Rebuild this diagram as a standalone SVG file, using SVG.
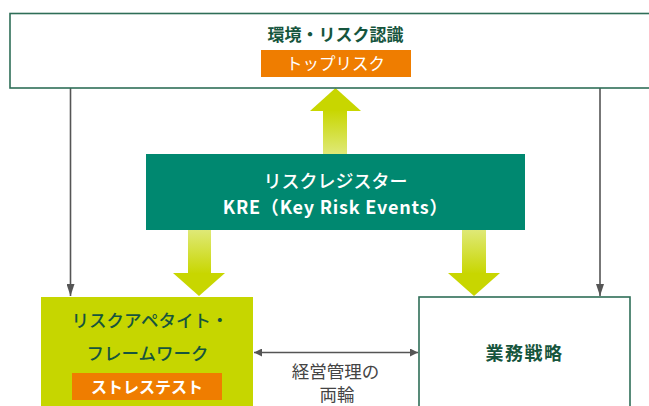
<svg xmlns="http://www.w3.org/2000/svg" width="649" height="406" viewBox="0 0 649 406">
<defs>
<style>
.t{font-family:"Noto Sans CJK JP","Noto Sans",sans-serif;text-anchor:middle}
.dg{fill:#16553d;font-weight:bold}
.wh{fill:#ffffff}
.gy{fill:#444444}
.ln{stroke:#555555;stroke-width:1.6;fill:none}
</style>
<linearGradient id="gUp" x1="0" y1="1" x2="0" y2="0">
<stop offset="0" stop-color="#dfe977"/>
<stop offset="1" stop-color="#c8d600"/>
</linearGradient>
<linearGradient id="gDn" x1="0" y1="0" x2="0" y2="1">
<stop offset="0" stop-color="#dfe977"/>
<stop offset="1" stop-color="#c8d600"/>
</linearGradient>
<marker id="ah" viewBox="0 0 10 10" refX="10" refY="5" markerWidth="8" markerHeight="8" markerUnits="userSpaceOnUse" orient="auto-start-reverse">
<path d="M0,0 L10,5 L0,10 z" fill="#555555"/>
</marker>
<marker id="ahd" viewBox="0 0 12 8" refX="12" refY="4" markerWidth="12" markerHeight="8" markerUnits="userSpaceOnUse" orient="auto">
<path d="M0,0 L12,4 L0,8 z" fill="#555555"/>
</marker>
</defs>

<g id="connectors">
<line class="ln" x1="70.5" y1="88" x2="70.5" y2="296" marker-end="url(#ahd)"/>
<line class="ln" x1="600" y1="88" x2="600" y2="296" marker-end="url(#ahd)"/>
<line class="ln" x1="254" y1="352.5" x2="418" y2="352.5" marker-start="url(#ah)" marker-end="url(#ah)"/>
<g id="arrow-up">
<rect x="323" y="110" width="24" height="44" fill="url(#gUp)"/>
<polygon points="335.5,88 361,111 310,111" fill="#c8d600"/>
</g>
<g id="arrow-down-left">
<rect x="188" y="230" width="23" height="44" fill="url(#gDn)"/>
<polygon points="173,273 225,273 199,296" fill="#c8d600"/>
</g>
<g id="arrow-down-right">
<rect x="462" y="230" width="24" height="44" fill="url(#gDn)"/>
<polygon points="448,273 500,273 474,296" fill="#c8d600"/>
</g>
</g>

<g id="node-top">
<rect x="10" y="13.5" width="645" height="74.5" fill="#ffffff" stroke="#2f6e58" stroke-width="1.6"/>
<text class="t dg" x="335.5" y="41" font-size="17">環境・リスク認識</text>
<rect x="261" y="50" width="150" height="27" fill="#ef7d00"/>
<text class="t wh" x="335.5" y="70" font-size="16.5">トップリスク</text>
</g>

<g id="node-register">
<rect x="146" y="154" width="379" height="76" fill="#008870"/>
<text class="t wh" x="335.5" y="188" font-size="18" style="font-weight:500">リスクレジスター</text>
<text class="t wh" x="335.5" y="214" font-size="18" font-weight="bold" letter-spacing="0.8">KRE（Key Risk Events）</text>
</g>

<g id="node-appetite">
<rect x="41" y="297" width="212" height="115" fill="#c6d600"/>
<text class="t dg" x="150" y="327" font-size="17.5" style="font-weight:500">リスクアペタイト・</text>
<text class="t dg" x="147.5" y="360" font-size="17.5" style="font-weight:500">フレームワーク</text>
<rect x="72" y="373" width="150" height="27" fill="#ef7d00"/>
<text class="t wh" x="147" y="393" font-size="16" font-weight="bold">ストレステスト</text>
</g>

<g id="node-strategy">
<rect x="419" y="297" width="211" height="115" fill="#ffffff" stroke="#2f6e58" stroke-width="1.6"/>
<text class="t dg" x="524.5" y="360" font-size="18" letter-spacing="1.5">業務戦略</text>
</g>

<g id="label-both">
<text class="t gy" x="335.5" y="378" font-size="17.5">経営管理の</text>
<text class="t gy" x="337" y="401" font-size="17.5">両輪</text>
</g>
</svg>
